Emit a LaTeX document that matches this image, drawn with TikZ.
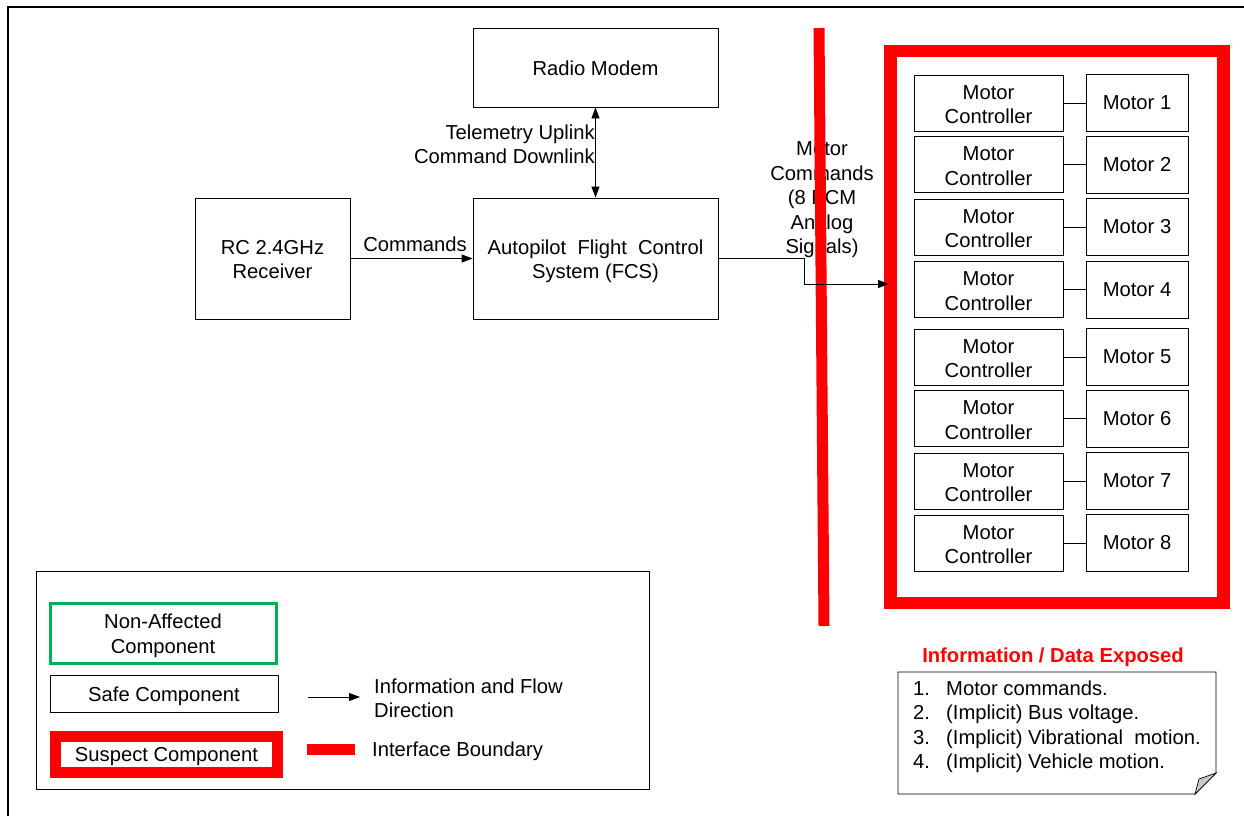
\documentclass[tikz,border=0pt]{standalone}
\usepackage{fontspec}
\setmainfont{Liberation Sans}
\usetikzlibrary{arrows.meta}
\definecolor{alertred}{RGB}{255,0,0}
\definecolor{okgreen}{RGB}{0,176,80}
\definecolor{foldgrey}{RGB}{200,200,200}
% lower a line of text without changing its box size
\newcommand{\dropby}[2]{\raisebox{-#1}[\height][\depth]{#2}}

\begin{document}
\begin{tikzpicture}[x=1pt,y=-1pt,
  every node/.style={font=\fontsize{20.2}{24.5}\selectfont, inner sep=0pt},
  box/.style={draw, line width=0.9pt, align=center},
  ctlbox/.style={box, minimum width=149, minimum height=56},
  motbox/.style={box, minimum width=102, minimum height=57},
  flow/.style={line width=0.9pt, -{Triangle[length=11pt,width=8pt]}},
  link/.style={line width=0.9pt},
  listline/.style={anchor=base west}
]
\useasboundingbox (0,0) rectangle (1244,816);

% page frame
\draw[line width=1.5pt] (8,816) -- (8,7) -- (1244,7);

% main blocks
\node[box, minimum width=245, minimum height=79] (modem) at (595.5,67.5) {\dropby{1pt}{Radio Modem}};
\node[box, minimum width=245, minimum height=121] (fcs) at (595.5,258.5) {\dropby{3pt}{Autopilot\ \ Flight\ \ Control}\\\dropby{3pt}{System (FCS)}};
\node[box, minimum width=155, minimum height=121] (rc) at (272.5,258.5) {\dropby{1pt}{RC 2.4GHz}\\\dropby{1pt}{Receiver}};

% RC receiver to FCS
\draw[flow] (rc) -- (fcs);
\node[anchor=base] (cmdlbl) at (415,251) {Commands};

% radio modem link
\draw[link, {Triangle[length=11pt,width=8pt]}-{Triangle[length=11pt,width=8pt]}] (modem.south) -- (fcs.north);
\node[anchor=east, align=right] (tlmlbl) at (595,144.5) {Telemetry Uplink\\Command Downlink};

% motor command label and interface boundary
\node[align=center] (mcmdlbl) at (822,200) {Motor\\Commands\\(8 PCM\\Analog\\Signals)};
\coordinate (bndtop) at (819,28);
\coordinate (bndbot) at (824,626);
\draw[alertred, line width=11pt] (bndtop) -- (bndbot);

% suspect motor group
\node[draw=alertred, line width=12.5pt, minimum width=333, minimum height=552] (motgroup) at (1057,327) {};

\foreach \i/\y in {1/103,2/164.5,3/227,4/289.5,5/357,6/418.5,7/481,8/543}{
  \node[ctlbox] (ctl\i) at (988.5,\y) {\dropby{1.5pt}{Motor}\\\dropby{1.5pt}{Controller}};
  \node[motbox] (mot\i) at (1137,\y) {Motor \i};
  \draw[link] (ctl\i) -- (mot\i);
}

% FCS to motor group
\coordinate (mcin) at (889,284);
\draw[flow] (fcs.east) -| (804,284) -- (mcin);

% legend
\node[draw, line width=1pt, minimum width=613, minimum height=218] (legend) at (342.5,680) {};
\node[draw=okgreen, line width=3pt, minimum width=226, minimum height=60, align=center] (lgna) at (163,633) {\dropby{3pt}{Non-Affected}\\\dropby{3pt}{Component}};
\node[box, minimum width=228, minimum height=37] (lgsafe) at (164,693.5) {\dropby{3pt}{Safe Component}};
\node[draw=alertred, line width=11pt, minimum width=222, minimum height=36] (lgsus) at (166.5,754) {\dropby{3pt}{Suspect Component}};
\coordinate (lgA) at (308,697);
\coordinate (lgB) at (360,697);
\draw[flow] (lgA) -- (lgB);
\node[anchor=west, align=left] (lgflow) at (374,698.5) {Information and Flow\\Direction};
\node[fill=alertred, minimum width=48, minimum height=11] (lgbar) at (331,749.5) {};
\node[anchor=base west] (lgbnd) at (372,756) {Interface Boundary};

% exposed information note
\node[anchor=base, text=alertred, font=\fontsize{20.2}{24.5}\selectfont\bfseries] (infotitle) at (1053,662) {Information / Data Exposed};
\draw[line width=0.9pt, fill=white] (898,672) -- (1216,672) -- (1216,773) -- (1195,794) -- (898,794) -- cycle;
\draw[line width=0.7pt, fill=foldgrey] (1216,773) -- (1199,779) -- (1195,794) -- cycle;
\node[listline] (n1) at (913,695) {1.};
\node[listline] (t1) at (946,695) {Motor commands.};
\node[listline] (n2) at (913,719.5) {2.};
\node[listline] (t2) at (946,719.5) {(Implicit) Bus voltage.};
\node[listline] (n3) at (913,744) {3.};
\node[listline] (t3) at (946,744) {(Implicit) Vibrational\ \ motion.};
\node[listline] (n4) at (913,768.5) {4.};
\node[listline] (t4) at (946,768.5) {(Implicit) Vehicle motion.};
\end{tikzpicture}
\end{document}
